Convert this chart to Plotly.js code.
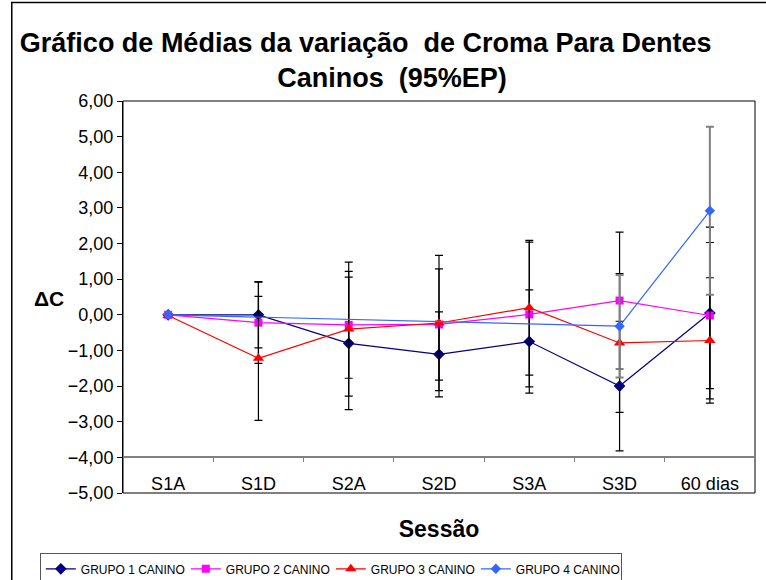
<!DOCTYPE html>
<html>
<head>
<meta charset="utf-8">
<script src="https://cdn.plot.ly/plotly-3.0.1.min.js"></script>
<style>html,body{margin:0;padding:0;background:#fff;}#chart{width:766px;height:580px;}</style>
</head>
<body>
<div id="chart"></div>
<script>
const categories = ['S1A', 'S1D', 'S2A', 'S2D', 'S3A', 'S3D', '60 dias'];

const grupo1 = [0.00, 0.00, -0.80, -1.11, -0.75, -2.00, 0.05];
const grupo1Err = [null, 0.93, 1.86, 1.19, 1.45, 1.82, 2.41];

const grupo2 = [0.00, -0.22, -0.28, -0.27, 0.01, 0.40, -0.02];
const grupo2Err = [null, 1.14, 1.50, 1.56, 2.03, 1.92, 2.05];

const grupo3 = [-0.02, -1.22, -0.40, -0.23, 0.20, -0.79, -0.72];
const grupo3Err = [null, 1.74, 1.88, 1.90, 1.89, 1.95, 1.76];

const grupo4 = [0.00, null, null, null, null, -0.32, 2.92];
const grupo4Err = [null, null, null, null, null, 1.44, 2.36];

const names = ['GRUPO 1 CANINO', 'GRUPO 2 CANINO', 'GRUPO 3 CANINO', 'GRUPO 4 CANINO'];

function mk(name, y, err, color, symbol, size, errColor, errThick) {
  return {
    type: 'scatter', mode: 'lines+markers', name: name,
    x: categories, y: y, connectgaps: true,
    line: {color: color, width: 1.2},
    marker: {color: color, symbol: symbol, size: size, line: {color: color, width: 0}},
    error_y: {type: 'data', array: err, visible: true, color: errColor, thickness: errThick, width: 4}
  };
}

const traces = [
  mk(names[0], grupo1, grupo1Err, '#000080', 'diamond', 9, '#000000', 1.2),
  mk(names[1], grupo2, grupo2Err, '#FF00FF', 'square', 8, '#000000', 1.2),
  mk(names[2], grupo3, grupo3Err, '#FF0000', 'triangle-up', 10, '#000000', 1.2),
  mk(names[3], grupo4, grupo4Err, '#3366FF', 'diamond', 8, '#808080', 2)
];

const F = 'Liberation Sans, Arial, sans-serif';

const layout = {
  width: 766, height: 580,
  margin: {l: 123, r: 11, t: 101, b: 87, pad: 0, autoexpand: false},
  paper_bgcolor: '#ffffff', plot_bgcolor: '#ffffff',
  separators: ',.',
  font: {family: F, size: 18, color: '#000000'},
  title: {
    text: 'Gráfico de Médias da variação\u00a0 de Croma Para Dentes\u00a0\u00a0\u00a0\u00a0\u00a0\u00a0\u00a0<br>Caninos\u00a0 (95%EP)',
    font: {family: F, size: 27, weight: 'bold', color: '#000000'},
    x: 392 / 766, xref: 'container', xanchor: 'center',
    y: 0.911, yref: 'container', yanchor: 'middle'
  },
  showlegend: true,
  legend: {
    orientation: 'h', x: 0.052, xref: 'container', xanchor: 'left',
    y: 0.046, yref: 'container', yanchor: 'top',
    font: {family: F, size: 12, color: '#000000'},
    bordercolor: '#555555', borderwidth: 1, bgcolor: '#ffffff',
    entrywidth: 100, entrywidthmode: 'pixels', itemwidth: 30, traceorder: 'normal'
  },
  xaxis: {
    type: 'category', categoryarray: categories, range: [-0.5, 6.5],
    anchor: 'free', position: 1 / 11, automargin: false,
    showline: true, linecolor: '#808080', linewidth: 2,
    ticks: 'outside', tickson: 'boundaries', ticklen: 4, tickcolor: '#808080', tickwidth: 1,
    ticklabelstandoff: 10,
    showgrid: false, zeroline: false,
    tickfont: {family: F, size: 18, color: '#000000'},
    title: {text: 'Sessão', font: {family: F, size: 23, weight: 'bold', color: '#000000'}, standoff: 27}
  },
  yaxis: {
    range: [-5, 6], dtick: 1, tick0: 0, tickformat: '.2f', automargin: false,
    showline: true, linecolor: '#000000', linewidth: 1,
    ticks: 'outside', ticklen: 5, tickcolor: '#000000',
    showgrid: false, zeroline: false,
    tickfont: {family: F, size: 18, color: '#000000'}
  },
  annotations: [
    {text: 'ΔC', xref: 'paper', yref: 'paper', x: (49 - 123) / 632, y: (493 - 298) / 392,
     xanchor: 'center', yanchor: 'middle', showarrow: false,
     font: {family: F, size: 21, weight: 'bold', color: '#000000'}}
  ],
  shapes: [
    {type: 'rect', xref: 'paper', yref: 'paper', x0: 0, x1: 1, y0: 0, y1: 1, line: {color: '#000000', width: 1}, layer: 'below'},
    {type: 'rect', xref: 'paper', yref: 'paper', x0: -0.176, x1: 1.2, y0: -1, y1: 1.251, line: {color: '#000000', width: 1.5}, layer: 'below'}
  ]
};

Plotly.newPlot('chart', traces, layout, {displayModeBar: false, staticPlot: true});
</script>
</body>
</html>
